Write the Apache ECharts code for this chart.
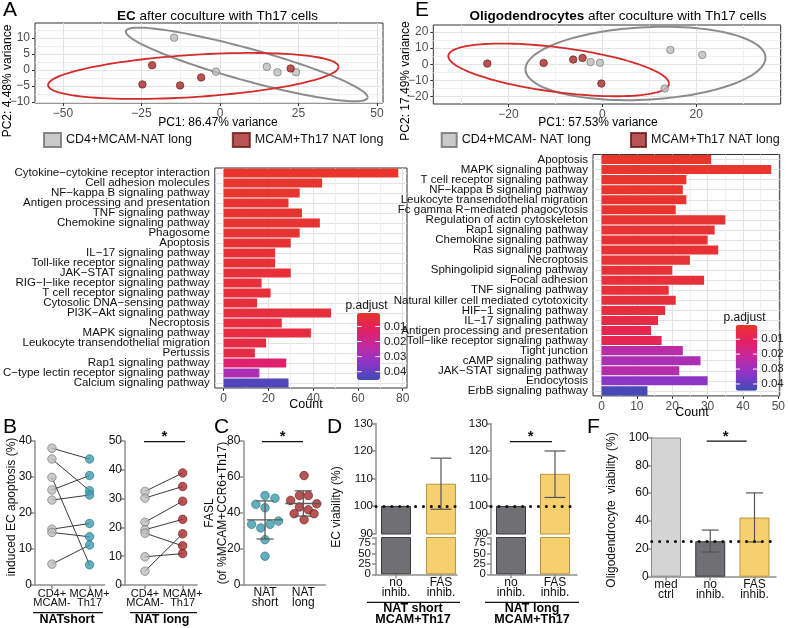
<!DOCTYPE html>
<html>
<head>
<meta charset="utf-8">
<script src="https://cdn.jsdelivr.net/npm/echarts@6/dist/echarts.min.js"></script>
<style>html,body{margin:0;padding:0;background:#fff}#main{width:788px;height:628px}</style>
</head>
<body>
<div id="main"></div>
<script>
// ---------- data ----------
// A: PCA of EC
const aGrayPC1 = [-14.6, -1.3, 14.9, 18.3, 24.2];
const aGrayPC2 = [10.1, -0.5, 1.0, -0.7, -0.7];
const aRedPC1 = [-21.6, -24.7, -12.7, -6.0, 22.5];
const aRedPC2 = [1.5, -4.5, -4.8, -2.3, 0.5];
// ellipse: centre x, centre y, semi-axis a (dx, dy), semi-axis b (dx, dy)
const aGrayEllipse = [8.5, 1.75, 38.5, -10.25, 0, 5.2];
const aRedEllipse = [-8.5, -1.85, 46.25, 2.85, 0, 6.6];

// E: PCA of oligodendrocytes
const eGrayPC1 = [14.5, 21.3, -2.5, -0.5, 13.3];
const eGrayPC2 = [8.9, 5.8, 1.4, 0.9, -15.1];
const eRedPC1 = [-24.5, -12.5, -6.2, -4.2, -0.2];
const eRedPC2 = [0.4, 0.8, 2.9, 3.9, -12.0];
const eGrayEllipse = [9.2, 0.5, 25.4, 1.0, 2.85, 22.8];
const eRedEllipse = [-9.3, -3.5, 23.5, -8.5, 0, 14];

// A: KEGG enrichment (EC)
const aTerms = ['Cytokine\u2212cytokine receptor interaction', 'Cell adhesion molecules', 'NF\u2212kappa B signaling pathway',
  'Antigen processing and presentation', 'TNF signaling pathway', 'Chemokine signaling pathway', 'Phagosome', 'Apoptosis',
  'IL\u221217 signaling pathway', 'Toll-like receptor signaling pathway', 'JAK\u2212STAT signaling pathway',
  'RIG\u2212I\u2212like receptor signaling pathway', 'T cell receptor signaling pathway', 'Cytosolic DNA\u2212sensing pathway',
  'PI3K\u2212Akt signaling pathway', 'Necroptosis', 'MAPK signaling pathway', 'Leukocyte transendothelial migration',
  'Pertussis', 'Rap1 signaling pathway', 'C\u2212type lectin receptor signaling pathway', 'Calcium signaling pathway'];
const aCounts = [78, 44, 34, 29, 35, 43, 34, 30, 23, 23, 30, 17, 21, 15, 48, 26, 39, 19, 14, 28, 16, 29];
const aPadj = [0.0012, 0.0015, 0.0018, 0.002, 0.0022, 0.0025, 0.0027, 0.003, 0.0033, 0.0035, 0.0038, 0.004,
  0.0042, 0.0045, 0.0048, 0.005, 0.0055, 0.006, 0.0065, 0.014, 0.028, 0.043];

// E: KEGG enrichment (oligodendrocytes)
const eTerms = ['Apoptosis', 'MAPK signaling pathway', 'T cell receptor signaling pathway', 'NF\u2212kappa B signaling pathway',
  'Leukocyte transendothelial migration', 'Fc gamma R\u2212mediated phagocytosis', 'Regulation of actin cytoskeleton',
  'Rap1 signaling pathway', 'Chemokine signaling pathway', 'Ras signaling pathway', 'Necroptosis',
  'Sphingolipid signaling pathway', 'Focal adhesion', 'TNF signaling pathway', 'Natural killer cell mediated cytotoxicity',
  'HIF\u22121 signaling pathway', 'IL\u221217 signaling pathway', 'Antigen processing and presentation',
  'Toll\u2212like receptor signaling pathway', 'Tight junction', 'cAMP signaling pathway', 'JAK\u2212STAT signaling pathway',
  'Endocytosis', 'ErbB signaling pathway'];
const eCounts = [31, 48, 24, 23, 24, 21, 35, 32, 30, 33, 25, 20, 29, 19, 21, 18, 16, 14, 17, 23, 28, 22, 30, 13];
const ePadj = [0.0006, 0.0008, 0.001, 0.0012, 0.0014, 0.0016, 0.0018, 0.002, 0.0022, 0.0024, 0.0026, 0.003,
  0.0033, 0.0036, 0.004, 0.0045, 0.006, 0.0075, 0.008, 0.024, 0.027, 0.025, 0.033, 0.043];
const padjTicks = [0.01, 0.02, 0.03, 0.04];

// B: induced EC apoptosis (%), paired
const bShortCd4 = [38.0, 35.0, 29.9, 26.4, 23.6, 15.5, 14.6, 5.8];
const bShortTh17 = [35.0, 26.2, 5.6, 30.4, 25.0, 17.1, 13.4, 11.1];
const bLongCd4 = [32.5, 30.2, 21.8, 19.2, 18.0, 9.8, 4.8];
const bLongTh17 = [38.9, 34.2, 29.1, 22.8, 13.6, 10.9, 17.8];
const bGroups = ['CD4+\nMCAM-', 'MCAM+\nTh17'];

// C: FASL (% of MCAM+CCR6+Th17)
const cShort = [44.8, 49.7, 48.2, 42.9, 33.7, 31.7, 33.7, 35.5, 25.2, 16.0];
const cShortJitter = [-0.24, 0, 0.26, 0, -0.35, -0.11, 0.13, 0.35, 0, 0];
const cLong = [60.8, 47.0, 49.7, 49.7, 45.1, 39.6, 41.8, 36.3, 39.6, 43.3];
const cLongJitter = [0.02, -0.33, -0.1, 0.13, 0.35, -0.24, 0.13, 0.02, 0.28, -0.1];
const cGroups = ['NAT\nshort', 'NAT\nlong'];

// D: EC viability (%)
const dGroups = ['no\ninhib.', 'FAS\ninhib.'];
const dShortMean = [100, 108.1];
const dShortLow = [null, 98.8];
const dShortHigh = [null, 117.4];
const dLongMean = [100, 111.7];
const dLongLow = [null, 103.1];
const dLongHigh = [null, 120.0];
const dLowerTicks = [0, 25, 50, 75];

// F: oligodendrocyte viability (%)
const fGroups = ['med\nctrl', 'no\ninhib.', 'FAS\ninhib.'];
const fMean = [100, 25.5, 42.5];
const fLow = [null, 17.7, 25.0];
const fHigh = [null, 33.5, 60.2];

// ---------- helpers ----------
const FONT = 'Liberation Sans, Arial, Helvetica, sans-serif';
const NARROW = 'Liberation Sans Narrow, Arial Narrow, sans-serif';
const PADJ_COLORS = ['#e8362b', '#e31f63', '#c12aa2', '#8c35c8', '#3e4bb4'];
const minus = v => String(v).replace('-', '\u2212');

const grids = [], xAxis = [], yAxis = [], series = [], graphic = [], visualMap = [];
const lateLabels = []; // labels placed after layout through the axes

function grid(left, top, width, height, boxed) {
  grids.push({ left, top, width, height, show: !!boxed, borderColor: '#333', borderWidth: 1,
    backgroundColor: boxed ? '#fff' : 'transparent' });
  return grids.length - 1;
}

function ggAxis(list, g, min, max, majors, minors, pos) {
  list.push({
    type: 'value', gridIndex: g, min, max, position: pos,
    axisLine: { show: false, onZero: false },
    axisTick: { show: true, customValues: majors, length: 3, lineStyle: { color: '#333' } },
    axisLabel: { customValues: majors, color: '#4d4d4d', fontSize: 12, margin: 5, hideOverlap: false, formatter: minus },
    splitLine: { show: true, lineStyle: { color: '#e3e3e3', width: 1 } }
  });
  const major = list.length - 1;
  if (minors) {
    list.push({
      type: 'value', gridIndex: g, min, max, position: pos,
      axisLine: { show: false, onZero: false }, axisTick: { show: false, customValues: minors }, axisLabel: { show: false },
      splitLine: { show: true, lineStyle: { color: '#f1f1f1', width: 1 } }
    });
  }
  return major;
}

function gpAxis(list, g, min, max, ticks, labels, names, fontSize) {
  list.push({
    type: 'value', gridIndex: g, min, max,
    axisLine: { show: true, onZero: false, lineStyle: { color: '#8f8f8f', width: 1.5 } },
    axisTick: { show: true, customValues: ticks, length: 4, lineStyle: { color: '#8f8f8f', width: 1.5 } },
    axisLabel: { show: labels !== false, customValues: labels || ticks, color: '#111', fontSize: fontSize || 12,
      margin: 3, lineHeight: 10, hideOverlap: false,
      formatter: names ? (v => names[Math.round(v) - 1]) : undefined },
    splitLine: { show: false }
  });
  return list.length - 1;
}

function txt(x, y, s, style, rot) {
  graphic.push({ type: 'text', x, y, rotation: rot || 0, z: 100, silent: true,
    style: Object.assign({ text: s, fontSize: 12, fontFamily: FONT, fill: '#111', align: 'center', verticalAlign: 'middle' }, style) });
}
function hline(x1, x2, y, color, w) {
  graphic.push({ type: 'line', z: 100, silent: true, shape: { x1, y1: y, x2, y2: y },
    style: { stroke: color || '#111', lineWidth: w || 1.3 } });
}

function ellipseSeries(xi, yi, params, color, width) {
  return {
    type: 'custom', xAxisIndex: xi, yAxisIndex: yi, data: [params], silent: true, z: 3,
    renderItem: (p, api) => {
      const v = [0, 1, 2, 3, 4, 5].map(i => api.value(i));
      const pts = [];
      for (let i = 0; i <= 120; i++) {
        const t = i / 120 * Math.PI * 2;
        pts.push(api.coord([v[0] + v[2] * Math.cos(t) + v[4] * Math.sin(t), v[1] + v[3] * Math.cos(t) + v[5] * Math.sin(t)]));
      }
      return { type: 'polyline', shape: { points: pts }, style: { stroke: color, lineWidth: width, fill: null } };
    }
  };
}

const GRAY_PT = { color: '#bdbdbd', borderColor: '#6e6e6e', borderWidth: 0.8 };
const RED_PT = { color: '#a52a2a', borderColor: '#6a1414', borderWidth: 0.8 };
const TEAL_PT = { color: '#3d9bad', borderColor: '#256f7d', borderWidth: 0.8 };

// ---------- A: PCA ----------
const gA = grid(35, 23, 348, 80, true);
const axA = ggAxis(xAxis, gA, -58.9, 51.9, [-50, -25, 0, 25, 50], [-37.5, -12.5, 12.5, 37.5], 'bottom');
const ayA = ggAxis(yAxis, gA, -10.3, 14.7, [-10, -5, 0, 5, 10], [-7.5, -2.5, 2.5, 7.5, 12.5], 'left');
series.push(ellipseSeries(axA, ayA, aGrayEllipse, '#8c8c8c', 2));
series.push(ellipseSeries(axA, ayA, aRedEllipse, '#d42b2b', 1.8));
series.push({ type: 'scatter', name: 'CD4+MCAM-NAT long', xAxisIndex: axA, yAxisIndex: ayA, symbolSize: 7.5, z: 5,
  itemStyle: GRAY_PT, data: aGrayPC1.map((x, i) => [x, aGrayPC2[i]]) });
series.push({ type: 'scatter', name: 'MCAM+Th17 NAT long', xAxisIndex: axA, yAxisIndex: ayA, symbolSize: 7.5, z: 5,
  itemStyle: RED_PT, data: aRedPC1.map((x, i) => [x, aRedPC2[i]]) });

// ---------- E: PCA ----------
const gE = grid(433.3, 25, 347.4, 79, true);
const axE = ggAxis(xAxis, gE, -36, 38, [-20, 0, 20], [-30, -10, 10, 30], 'bottom');
const ayE = ggAxis(yAxis, gE, -24.7, 24.4, [-20, -10, 0, 10, 20], [-15, -5, 5, 15], 'left');
series.push(ellipseSeries(axE, ayE, eGrayEllipse, '#8c8c8c', 2));
series.push(ellipseSeries(axE, ayE, eRedEllipse, '#d42b2b', 1.8));
series.push({ type: 'scatter', name: 'CD4+MCAM- NAT long', xAxisIndex: axE, yAxisIndex: ayE, symbolSize: 7.5, z: 5,
  itemStyle: GRAY_PT, data: eGrayPC1.map((x, i) => [x, eGrayPC2[i]]) });
series.push({ type: 'scatter', name: 'MCAM+Th17 NAT long', xAxisIndex: axE, yAxisIndex: ayE, symbolSize: 7.5, z: 5,
  itemStyle: RED_PT, data: eRedPC1.map((x, i) => [x, eRedPC2[i]]) });

// ---------- enrichment bar charts ----------
function enrichPanel(left, top, width, height, min, max, majors, minors, terms, counts, padj, bar) {
  const g = grid(left, top, width, height, true);
  const xi = ggAxis(xAxis, g, min, max, majors, minors, 'bottom');
  yAxis.push({
    type: 'category', gridIndex: g, data: terms, inverse: true,
    axisLine: { show: false, onZero: false },
    axisTick: { alignWithLabel: true, length: 3, lineStyle: { color: '#333' } },
    axisLabel: { interval: 0, fontFamily: NARROW, fontSize: 11.5, color: '#111', margin: 5 },
    splitLine: { show: true, alignWithLabel: true, lineStyle: { color: '#e3e3e3' } }
  });
  const yi = yAxis.length - 1;
  series.push({ type: 'bar', xAxisIndex: xi, yAxisIndex: yi, barWidth: '90%', encode: { x: 0, y: 1 },
    data: counts.map((c, i) => [c, terms[i], padj[i]]) });
  visualMap.push({ type: 'continuous', seriesIndex: series.length - 1, dimension: 2, min: bar.min, max: bar.max,
    inverse: true, calculable: false, hoverLink: false, orient: 'vertical', left: bar.left, top: bar.top,
    itemWidth: bar.w, itemHeight: bar.h, padding: 0, inRange: { color: PADJ_COLORS } });
  txt(bar.left + bar.w / 2 - 2, bar.top - 7, 'p.adjust', { fontFamily: NARROW, fontSize: 12 });
  padjTicks.forEach(v => {
    const y = bar.top + (v - bar.min) / (bar.max - bar.min) * bar.h;
    txt(bar.left + bar.w + 4, y, String(v), { align: 'left', fontFamily: NARROW, fontSize: 11.5, fill: '#222' });
    hline(bar.left, bar.left + bar.w / 5, y, '#fff', 1);
    hline(bar.left + bar.w * 0.8, bar.left + bar.w, y, '#fff', 1);
  });
}
enrichPanel(200, 168, 207, 220, -3.9, 81.9, [0, 20, 40, 60, 80], [10, 30, 50, 70], aTerms, aCounts, aPadj,
  { min: 0.0011, max: 0.0455, left: 357, top: 313, w: 23, h: 67 });
enrichPanel(593, 154.5, 189, 241.4, -2.4, 50.4, [0, 10, 20, 30, 40, 50], [5, 15, 25, 35, 45], eTerms, eCounts, ePadj,
  { min: 0.0005, max: 0.0445, left: 735.7, top: 325, w: 21.6, h: 65.7 });

// ---------- B: paired apoptosis ----------
function pairedPanel(left, width, xmin, xmax, ymax, yticks, before, after, afterStyle) {
  const g = grid(left, 441, width, 144);
  const xi = gpAxis(xAxis, g, xmin, xmax, [1, 2], false);
  const yi = gpAxis(yAxis, g, 0, ymax, yticks);
  bGroups.forEach((name, i) => lateLabels.push({ xi, x: i + 1, y: 589, text: name }));
  series.push({ type: 'lines', coordinateSystem: 'cartesian2d', xAxisIndex: xi, yAxisIndex: yi, silent: true, z: 2,
    lineStyle: { color: '#3a3a3a', width: 1, opacity: 1 },
    data: before.map((v, i) => ({ coords: [[1, v], [2, after[i]]] })) });
  series.push({ type: 'scatter', xAxisIndex: xi, yAxisIndex: yi, symbolSize: 8.5, z: 5, itemStyle: GRAY_PT,
    data: before.map(v => [1, v]) });
  series.push({ type: 'scatter', xAxisIndex: xi, yAxisIndex: yi, symbolSize: 8.5, z: 5, itemStyle: afterStyle,
    data: after.map(v => [2, v]) });
}
pairedPanel(35, 69.6, 0.55, 2.4, 40, [0, 10, 20, 30, 40], bShortCd4, bShortTh17, TEAL_PT);
pairedPanel(125, 72, 0.47, 2.38, 50, [0, 10, 20, 30, 40, 50], bLongCd4, bLongTh17, RED_PT);

// ---------- C: FASL ----------
const mean = a => a.reduce((s, v) => s + v, 0) / a.length;
const sd = a => { const m = mean(a); return Math.sqrt(a.reduce((s, v) => s + (v - m) * (v - m), 0) / (a.length - 1)); };
const gC = grid(243.3, 441, 82, 144);
const cxi = gpAxis(xAxis, gC, 0.433, 2.574, [1, 2], [1, 2], cGroups);
const cyi = gpAxis(yAxis, gC, 0, 80, [0, 20, 40, 60, 80]);
series.push({ type: 'scatter', xAxisIndex: cxi, yAxisIndex: cyi, symbolSize: 8.5, z: 4, itemStyle: TEAL_PT,
  data: cShort.map((v, i) => [1 + cShortJitter[i], v]) });
series.push({ type: 'scatter', xAxisIndex: cxi, yAxisIndex: cyi, symbolSize: 8.5, z: 4, itemStyle: RED_PT,
  data: cLong.map((v, i) => [2 + cLongJitter[i], v]) });
series.push({
  type: 'custom', xAxisIndex: cxi, yAxisIndex: cyi, silent: true, z: 6,
  data: [[1, mean(cShort), sd(cShort)], [2, mean(cLong), sd(cLong)]],
  renderItem: (p, api) => {
    const x = api.value(0), m = api.value(1), s = api.value(2);
    const c = api.coord([x, m]), up = api.coord([x, m + s]), lo = api.coord([x, m - s]);
    const st = { stroke: '#5a5a5a', lineWidth: 1.3 };
    return { type: 'group', children: [
      { type: 'line', shape: { x1: c[0] - 18, y1: c[1], x2: c[0] + 18, y2: c[1] }, style: st },
      { type: 'line', shape: { x1: c[0] - 8.5, y1: up[1], x2: c[0] + 8.5, y2: up[1] }, style: st },
      { type: 'line', shape: { x1: c[0] - 8.5, y1: lo[1], x2: c[0] + 8.5, y2: lo[1] }, style: st },
      { type: 'line', shape: { x1: c[0], y1: up[1], x2: c[0], y2: lo[1] }, style: st }
    ] };
  }
});

// ---------- bar + error helpers for D and F ----------
const BAR_STYLES = {
  light: { color: '#d4d4d4', borderColor: '#8a8a8a', borderWidth: 1 },
  dark: { color: '#707074', borderColor: '#3a3a3a', borderWidth: 1 },
  yellow: { color: '#f6d06f', borderColor: '#b8963e', borderWidth: 1 }
};
function barSeries(xi, yi, means, styles, refLine) {
  const s = { type: 'bar', xAxisIndex: xi, yAxisIndex: yi, barWidth: 30, clip: true, z: 2,
    data: means.map((v, i) => ({ value: [i + 1, v], itemStyle: BAR_STYLES[styles[i]] })) };
  if (refLine != null) {
    s.markLine = { symbol: 'none', silent: true, label: { show: false }, z: 8,
      lineStyle: { color: '#111', width: 3, type: [0.1, 7.8], cap: 'round' }, data: [{ yAxis: refLine }] };
  }
  series.push(s);
}
function errSeries(xi, yi, low, high, cap) {
  series.push({
    type: 'custom', xAxisIndex: xi, yAxisIndex: yi, silent: true, z: 6,
    data: low.map((v, i) => [i + 1, v, high[i]]).filter(d => d[1] != null),
    renderItem: (p, api) => {
      const lo = api.coord([api.value(0), api.value(1)]), hi = api.coord([api.value(0), api.value(2)]);
      const st = { stroke: '#555', lineWidth: 1.2 };
      return { type: 'group', children: [
        { type: 'line', shape: { x1: lo[0], y1: lo[1], x2: hi[0], y2: hi[1] }, style: st },
        { type: 'line', shape: { x1: hi[0] - cap, y1: hi[1], x2: hi[0] + cap, y2: hi[1] }, style: st },
        { type: 'line', shape: { x1: lo[0] - cap, y1: lo[1], x2: lo[0] + cap, y2: lo[1] }, style: st }
      ] };
    }
  });
}

// ---------- D: broken-axis bars ----------
function brokenPanel(left, width, xmin, xmax, means, low, high) {
  const gu = grid(left, 423.5, width, 110.5);
  const gl = grid(left, 537.5, width, 36.8);
  xAxis.push({ type: 'value', gridIndex: gu, min: xmin, max: xmax, show: false });
  const xu = xAxis.length - 1;
  const yu = gpAxis(yAxis, gu, 89.8, 130, [90, 100, 110, 120, 130], null, null, 11.5);
  const xl = gpAxis(xAxis, gl, xmin, xmax, [1, 2], [1, 2], dGroups);
  const yl = gpAxis(yAxis, gl, 0, 89.1, dLowerTicks.concat([89.1]), false);
  dLowerTicks.forEach(v => lateLabels.push({ yi: yl, left: left - 5, y: v, text: String(v) }));
  barSeries(xu, yu, means, ['dark', 'yellow'], means[0]);
  barSeries(xl, yl, means, ['dark', 'yellow']);
  errSeries(xu, yu, low, high, 10.5);
}
brokenPanel(376, 81, 0.556, 2.356, dShortMean, dShortLow, dShortHigh);
brokenPanel(491, 86, 0.545, 2.5, dLongMean, dLongLow, dLongHigh);

// ---------- F: oligodendrocyte viability ----------
const gF = grid(651.7, 437.5, 124.3, 139.2);
const fxi = gpAxis(xAxis, gF, 0.677, 3.486, [1, 2, 3], [1, 2, 3], fGroups);
const fyi = gpAxis(yAxis, gF, 0, 100, [0, 20, 40, 60, 80, 100]);
barSeries(fxi, fyi, fMean, ['light', 'dark', 'yellow'], fMean[1]);
errSeries(fxi, fyi, fLow, fHigh, 8.5);

// ---------- text ----------
const LETTER = { fontSize: 21, align: 'left', verticalAlign: 'top', fill: '#000' };
txt(3, 0, 'A', LETTER);
txt(415, 0, 'E', LETTER);
txt(3, 417, 'B', LETTER);
txt(214, 417, 'C', LETTER);
txt(327, 417, 'D', LETTER);
txt(587, 417, 'F', LETTER);

const TITLE = { fontSize: 13.5, fill: '#000', rich: { b: { fontWeight: 'bold', fontSize: 13.5, fontFamily: FONT, fill: '#000' } } };
txt(217.5, 16, '{b|EC} after coculture with Th17 cells', TITLE);
txt(618, 16, '{b|Oligodendrocytes} after coculture with Th17 cells', TITLE);
txt(218, 123, 'PC1: 86.47% variance', { fill: '#000' });
txt(8, 81, 'PC2: 4.48% variance', { fill: '#000' }, Math.PI / 2);
txt(598, 123, 'PC1: 57.53% variance', { fill: '#000' });
txt(405.5, 81, 'PC2: 17.49% variance', { fill: '#000' }, Math.PI / 2);
txt(306, 405, 'Count', { fontSize: 12.5, fill: '#000' });
txt(692, 413, 'Count', { fontSize: 12.5, fill: '#000' });

const BOLD = { fontWeight: 'bold', fontSize: 12.5, fill: '#000' };
txt(12, 507, 'induced EC apoptosis (%)', {}, Math.PI / 2);
hline(33, 103, 612.7);
txt(67, 620, 'NATshort', BOLD);
hline(130, 197, 612.7);
txt(162, 620, 'NAT long', BOLD);
hline(144, 185, 441.7);
txt(164.5, 437, '*', { fontSize: 15, fontWeight: 'bold' });

txt(210, 513, 'FASL', {}, Math.PI / 2);
txt(223, 513, '(of %MCAM+CCR6+Th17)', {}, Math.PI / 2);
hline(262, 303, 441.7);
txt(282.7, 437, '*', { fontSize: 15, fontWeight: 'bold' });

txt(337, 507, 'EC viability (%)', {}, Math.PI / 2);
hline(367, 460, 602.3);
txt(413, 609, 'NAT short', BOLD);
txt(413, 620, 'MCAM+Th17', BOLD);
hline(485, 579, 602.3);
txt(532, 609, 'NAT long', BOLD);
txt(532, 620, 'MCAM+Th17', BOLD);
hline(510, 552, 441.7);
txt(530.7, 437, '*', { fontSize: 15, fontWeight: 'bold' });

txt(612, 510, 'Oligodendrocyte  viability (%)', {}, Math.PI / 2);
hline(706.7, 746.7, 441.2);
txt(725.7, 436.5, '*', { fontSize: 15, fontWeight: 'bold' });

// ---------- chart ----------
const chart = echarts.init(document.getElementById('main'), null, { renderer: 'canvas' });
chart.setOption({
  animation: false,
  backgroundColor: '#fff',
  textStyle: { fontFamily: FONT },
  grid: grids,
  xAxis: xAxis,
  yAxis: yAxis,
  visualMap: visualMap,
  legend: [
    { data: ['CD4+MCAM-NAT long', 'MCAM+Th17 NAT long'], left: 43, top: 132, icon: 'rect', itemWidth: 17, itemHeight: 14,
      itemGap: 40, padding: 0, selectedMode: false, textStyle: { fontSize: 12.5, color: '#111' } },
    { data: ['CD4+MCAM- NAT long', 'MCAM+Th17 NAT long'], left: 440.7, top: 132, icon: 'rect', itemWidth: 15, itemHeight: 14,
      itemGap: 39, padding: 0, selectedMode: false, textStyle: { fontSize: 12.5, color: '#111' } }
  ],
  series: series
});

// crowded axis labels, positioned through the axes so none get dropped
lateLabels.forEach(l => {
  if (l.xi != null) {
    const x = chart.convertToPixel({ xAxisIndex: l.xi }, l.x);
    txt(x, l.y, l.text, { verticalAlign: 'top', lineHeight: 9.5, fontSize: 11 });
  } else {
    const y = chart.convertToPixel({ yAxisIndex: l.yi }, l.y);
    txt(l.left, y, l.text, { align: 'right', fontSize: 11.5 });
  }
});
chart.setOption({ graphic: graphic });
</script>
</body>
</html>
